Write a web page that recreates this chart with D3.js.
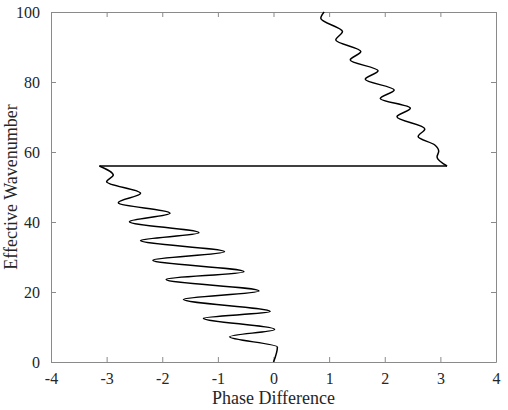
<!DOCTYPE html>
<html>
<head>
<meta charset="utf-8">
<script src="https://cdn.jsdelivr.net/npm/d3@7.9.0/dist/d3.min.js"></script>
<style>
  body { margin: 0; background: #fff; }
  svg { display: block; font-family: "Liberation Serif", "Times New Roman", serif; }
  .axis path, .axis line { stroke: #8a8a8a; }
</style>
</head>
<body>
<svg width="508" height="410"></svg>
<script>
// lower branch (before the phase wraps)
const lowerPhase = [0, 0.07, -0.79, 0.02, -1.26, -0.06, -1.62, -0.26, -1.93, -0.53, -2.17, -0.88,
  -2.39, -1.34, -2.59, -1.86, -2.79, -2.39, -3.0, -2.88, -3.13];
const lowerWave = [0, 4.3, 7.2, 9.3, 12.5, 14.4, 17.9, 20.3, 23.6, 25.8, 29.1, 31.5,
  34.7, 36.9, 40.1, 42.5, 45.5, 48.2, 51.5, 53.4, 56.0];

// upper branch (after the wrap)
const upperPhase = [3.12, 2.94, 2.97, 2.90, 2.60, 2.72, 2.22, 2.46, 1.92, 2.17, 1.65, 1.88,
  1.38, 1.57, 1.12, 1.24, 0.85, 0.91];
const upperWave = [56.0, 58.6, 60.2, 62.0, 64.4, 66.6, 70.1, 72.5, 75.3, 77.7, 80.8, 83.2,
  86.3, 88.7, 92.0, 94.4, 98.2, 100];

const xTicks = [-4, -3, -2, -1, 0, 1, 2, 3, 4];
const yTicks = [0, 20, 40, 60, 80, 100];

const margin = {top: 12, right: 12, bottom: 48, left: 51};
const width = 508 - margin.left - margin.right;
const height = 410 - margin.top - margin.bottom;

const svg = d3.select('svg');
const g = svg.append('g').attr('transform', `translate(${margin.left},${margin.top})`);

const x = d3.scaleLinear().domain([-4, 4]).range([0, width]);
const y = d3.scaleLinear().domain([0, 100]).range([height, 0]);

const plain = d => String(d); // hyphen minus like the original

// axes with inward ticks, MATLAB style box
g.append('g').attr('class', 'axis')
  .attr('transform', `translate(0,${height})`)
  .call(d3.axisBottom(x).tickValues(xTicks).tickFormat(plain).tickSizeInner(-5).tickSizeOuter(0).tickPadding(11));
g.append('g').attr('class', 'axis')
  .call(d3.axisTop(x).tickValues(xTicks).tickSizeInner(-5).tickSizeOuter(0).tickFormat(''));
g.append('g').attr('class', 'axis')
  .call(d3.axisLeft(y).tickValues(yTicks).tickFormat(plain).tickSizeInner(-5).tickSizeOuter(0).tickPadding(11));
g.append('g').attr('class', 'axis')
  .attr('transform', `translate(${width},0)`)
  .call(d3.axisRight(y).tickValues(yTicks).tickSizeInner(-5).tickSizeOuter(0).tickFormat(''));

g.selectAll('.axis').attr('font-family', null).attr('font-size', null);
g.selectAll('.axis text')
  .style('font-family', '"Liberation Serif", "Times New Roman", serif')
  .style('font-size', '16px')
  .style('fill', '#262626');

const line = d3.line()
  .x(d => x(d[0]))
  .y(d => y(d[1]))
  .curve(d3.curveMonotoneY);

const lower = lowerPhase.map((p, i) => [p, lowerWave[i]]);
const upper = upperPhase.map((p, i) => [p, upperWave[i]]);

g.append('path').datum(lower)
  .attr('d', line).attr('fill', 'none').attr('stroke', '#000').attr('stroke-width', 1.5);
g.append('path').datum(upper)
  .attr('d', line).attr('fill', 'none').attr('stroke', '#000').attr('stroke-width', 1.5);
// the wrap jump
g.append('path').datum([lower[lower.length - 1], upper[0]])
  .attr('d', d3.line().x(d => x(d[0])).y(d => y(d[1])))
  .attr('fill', 'none').attr('stroke', '#000').attr('stroke-width', 1.5);

svg.append('text')
  .attr('x', margin.left + width / 2).attr('y', 404)
  .attr('text-anchor', 'middle').attr('font-size', 18).attr('fill', '#262626')
  .text('Phase Difference');

svg.append('text')
  .attr('transform', `translate(17,${margin.top + height / 2}) rotate(-90)`)
  .attr('text-anchor', 'middle').attr('font-size', 18).attr('fill', '#262626')
  .text('Effective Wavenumber');
</script>
</body>
</html>
